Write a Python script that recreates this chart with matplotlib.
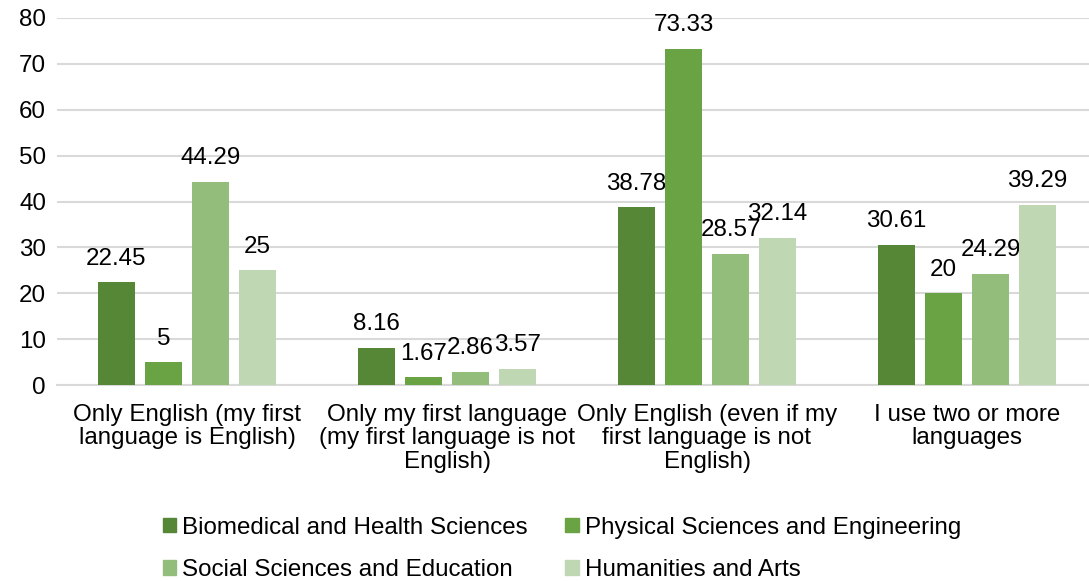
import numpy as np
import matplotlib.pyplot as plt
from matplotlib.patches import Patch

plt.rcParams['font.family'] = ['Liberation Sans', 'DejaVu Sans']

categories = ['Only English (my first\nlanguage is English)',
              'Only my first language\n(my first language is not\nEnglish)',
              'Only English (even if my\nfirst language is not\nEnglish)',
              'I use two or more\nlanguages']
series_names = ['Biomedical and Health Sciences', 'Physical Sciences and Engineering',
                'Social Sciences and Education', 'Humanities and Arts']
biomedical = [22.45, 8.16, 38.78, 30.61]
physical = [5, 1.67, 73.33, 20]
social = [44.29, 2.86, 28.57, 24.29]
humanities = [25, 3.57, 32.14, 39.29]
colors = ['#558737', '#69a344', '#93bd7b', '#bfd7b3']

FS = 17.4

fig = plt.figure(figsize=(10.89, 5.81), dpi=100)
ax = fig.add_axes([57 / 1089, 1 - 385 / 581, 1032 / 1089, 367 / 581])

x = np.arange(len(categories))
width = 0.142
step = 0.181
all_series = [biomedical, physical, social, humanities]
for i, vals in enumerate(all_series):
    pos = x + (i - 1.5) * step
    ax.bar(pos, vals, width, color=colors[i], zorder=3)
    for xp, v in zip(pos, vals):
        ax.annotate('{:g}'.format(v), (xp, v), xytext=(0, 9), textcoords='offset points',
                    ha='center', va='bottom', fontsize=FS, color='#000000')

ax.set_ylim(0, 80)
ax.set_xlim(-0.5, 3.5 - 8 / 260)
ax.set_yticks(range(0, 81, 10))
ax.yaxis.grid(True, color='#d9d9d9', lw=1.5, zorder=0)
for s in ['top', 'right', 'left']:
    ax.spines[s].set_visible(False)
ax.spines['bottom'].set_color('#d9d9d9')
ax.spines['bottom'].set_linewidth(1.5)
ax.tick_params(axis='both', length=0, labelsize=FS, colors='#000000')
ax.tick_params(axis='y', pad=8)
ax.tick_params(axis='x', pad=13.5)
ax.set_xticks(x)
ax.set_xticklabels(categories, linespacing=1.1)

# legend fills column-wise, so reorder to get row-wise order
order = [0, 2, 1, 3]
handles = [Patch(color=colors[k]) for k in order]
labels = [series_names[k] for k in order]
fig.legend(handles, labels, ncol=2, loc='center',
           bbox_to_anchor=(562 / 1089, 1 - 549 / 581), frameon=False,
           fontsize=FS, handlelength=0.55, handleheight=0.55, handletextpad=0.25,
           columnspacing=1.55, labelspacing=0.85, borderpad=0)

fig.savefig('out.png', dpi=100)
